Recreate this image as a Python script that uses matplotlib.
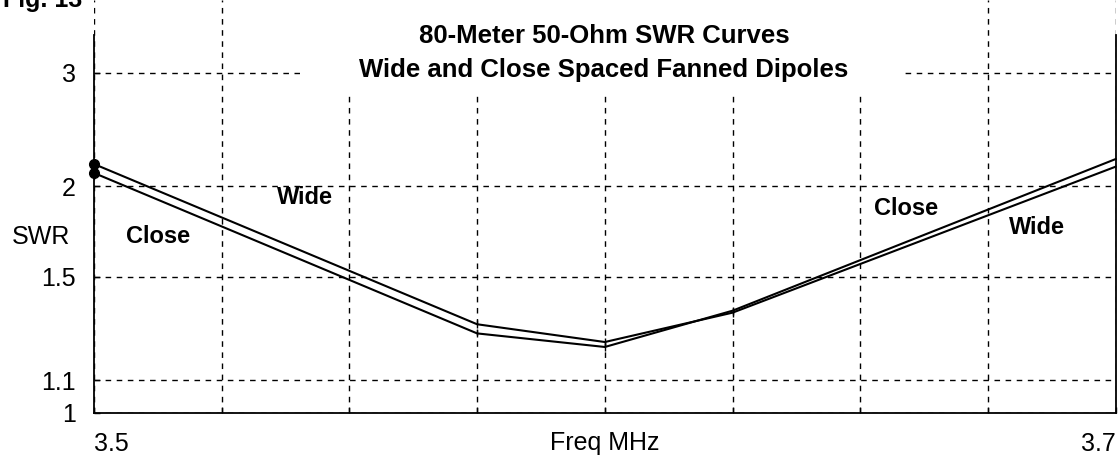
import matplotlib.pyplot as plt
import matplotlib.patches as mpatches
import numpy as np

# data
freq = [3.5, 3.575, 3.6, 3.625, 3.7]
wide = [2.153, 1.299, 1.232, 1.345, 2.134]
close = [2.089, 1.264, 1.214, 1.353, 2.19]

x_ticks = [3.5, 3.525, 3.55, 3.575, 3.6, 3.625, 3.65, 3.675, 3.7]
x_labels = ['3.5', '', '', '', '', '', '', '', '3.7']
y_ticks = [1, 1.1, 1.5, 2, 3]
y_labels = ['1', '1.1', '1.5', '2', '3']

title_lines = '80-Meter 50-Ohm SWR Curves\nWide and Close Spaced Fanned Dipoles'


# SWR axis is linear in reflection coefficient
def to_rho(s):
    s = np.asarray(s, dtype=float)
    return (s - 1) / (s + 1)


def from_rho(r):
    r = np.asarray(r, dtype=float)
    return (1 + r) / (1 - r)


plt.rcParams['font.family'] = ['Liberation Sans', 'DejaVu Sans']

fig = plt.figure(figsize=(11.19, 4.61), dpi=100)
ax = fig.add_axes([94 / 1119, 48.3 / 461, (1115.7 - 94) / 1119, 412.7 / 461])

ax.set_yscale('function', functions=(to_rho, from_rho))
ax.set_xlim(3.5, 3.7)
ax.set_ylim(1, 4.088)

dash = dict(color='black', linewidth=1.0, linestyle=(0, (4, 4)))
ax.grid(True, **dash)
ax.set_axisbelow(True)

ax.spines['top'].set_visible(False)
for s in ['left', 'right']:
    ax.spines[s].set_bounds(1, 3.5)
for s in ['left', 'right', 'bottom']:
    ax.spines[s].set_linewidth(1.3)

ax.set_xticks(x_ticks)
ax.set_xticklabels(x_labels, fontsize=18)
ax.set_yticks(y_ticks)
ax.set_yticklabels(y_labels, fontsize=18)
ax.yaxis.set_minor_locator(plt.NullLocator())
ax.tick_params(axis='both', direction='in', length=4, width=1)
ax.tick_params(axis='x', pad=14)
ax.tick_params(axis='y', pad=13)
xl = ax.get_xticklabels()
xl[0].set_horizontalalignment('left')
xl[-1].set_horizontalalignment('right')

ax.text(0.5, -0.0734, 'Freq MHz', transform=ax.transAxes, ha='center', va='center', fontsize=18)
ax.text(-0.052, 0.4257, 'SWR', transform=ax.transAxes, ha='center', va='center', fontsize=18)

# white block behind the title
ax.add_patch(mpatches.Rectangle(((300 - 94) / 1021.7, (412.7 - 95) / 412.7),
                                (905 - 300) / 1021.7, 95 / 412.7,
                                transform=ax.transAxes, facecolor='white',
                                edgecolor='none', zorder=1.5, clip_on=False))
ax.text(0.499, (412.7 - 53) / 412.7, title_lines, transform=ax.transAxes,
        ha='center', va='center', fontsize=18.5, fontweight='bold',
        linespacing=1.55, zorder=3)

for ys in (wide, close):
    ax.plot(freq, ys, color='black', linewidth=1.5, zorder=4, clip_on=False)
    ax.plot(freq[:1], ys[:1], marker='o', markersize=7, color='black',
            linestyle='none', zorder=5, clip_on=False)
    ax.plot(freq[1:4], ys[1:4], marker='|', markersize=6, color='black',
            linestyle='none', zorder=5)

lab = dict(fontsize=17, fontweight='bold', ha='center', va='center', zorder=6)
ax.text(3.5125, 1.70, 'Close', **lab)
ax.text(3.5413, 1.929, 'Wide', **lab)
ax.text(3.659, 1.861, 'Close', **lab)
ax.text(3.6846, 1.751, 'Wide', **lab)

fig.text(0.003, 1 - 7 / 461, 'Fig. 13', fontsize=18, fontweight='bold',
         ha='left', va='baseline')

fig.savefig('out.png', dpi=100)
